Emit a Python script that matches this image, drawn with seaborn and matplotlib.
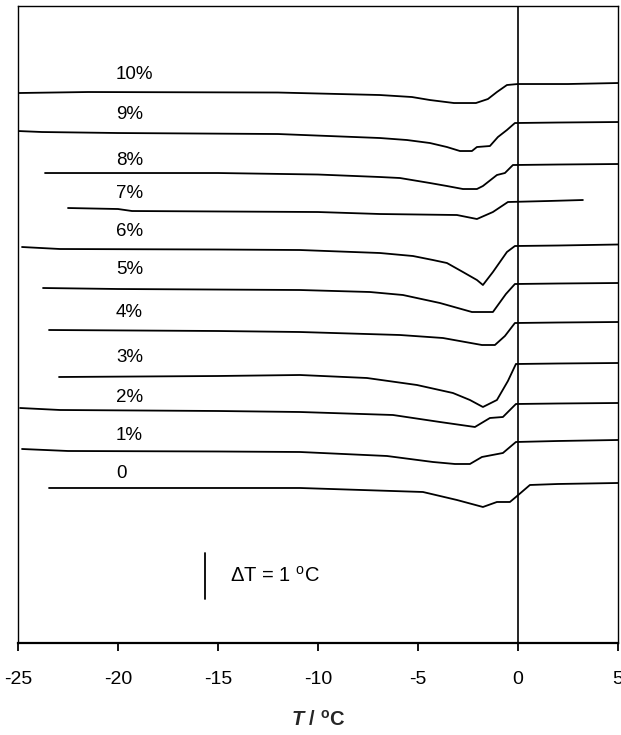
import matplotlib
matplotlib.use('Agg')
import matplotlib.pyplot as plt
import pandas as pd
import seaborn as sns

# Cooling curves, temperature T (degC) vs. signal height (arbitrary units,
# 46 units = 1 degC, see scale bar). Curves stacked by concentration.
labels = ['10%', '9%', '8%', '7%', '6%', '5%', '4%', '3%', '2%', '1%', '0']

t_10 = [-25, -21.5, -12, -6.9, -5.3, -4.4, -3.2, -2.1, -1.5, -1.05, -0.55, 0, 2.5, 5]
h_10 = [550, 551, 550.5, 548, 546, 543, 540, 540, 544, 551, 558, 559, 559, 560]

t_9 = [-25, -23.8, -20, -12, -6.9, -5.55, -4.4, -3.55, -2.9, -2.3, -2.05, -1.4, -1.0, -0.55, -0.15, 2, 5]
h_9 = [512, 511, 510, 509, 505, 503, 500, 496, 492, 492, 496, 497, 506, 513, 520, 520.5, 521]

t_8 = [-23.65, -15, -10, -6.9, -5.9, -4.4, -3.55, -2.75, -2.05, -1.75, -1.05, -0.65, -0.25, 2, 5]
h_8 = [470, 470, 468.5, 466, 465, 460, 457, 454, 454, 457, 468, 470, 478, 478.5, 479]

t_7 = [-22.5, -20.0, -19.3, -10, -6.9, -3.05, -2.05, -1.25, -0.5, 1.5, 3.25]
h_7 = [435, 434, 432, 431, 429, 428, 424, 431, 441, 442, 443]

t_6 = [-24.8, -22.9, -15, -10.9, -6.9, -5.25, -4.25, -3.55, -2.75, -2.05, -1.75, -1.25, -0.55, -0.15, 2, 5]
h_6 = [396, 394, 393.5, 393, 390, 387, 383, 380, 371, 363, 358, 371, 391, 397, 397.5, 398.5]

t_5 = [-23.75, -20, -10.9, -7.4, -5.75, -3.9, -2.3, -1.25, -0.6, -0.15, 2, 5]
h_5 = [355, 354, 353, 351, 348, 340, 331, 331, 349, 359, 359.5, 360]

t_4 = [-23.45, -15, -10.9, -5.9, -3.75, -1.8, -1.15, -0.65, -0.15, 2, 5]
h_4 = [313, 312, 311, 308, 305, 298, 298, 307, 320, 320.5, 321]

t_3 = [-22.95, -15, -10.9, -7.55, -5.05, -3.25, -2.4, -1.75, -1.05, -0.5, -0.1, 2, 5]
h_3 = [266, 267, 268, 265, 258, 250, 243, 236, 243, 262, 279, 279.5, 280]

t_2 = [-24.9, -22.9, -15, -10.9, -6.25, -3.9, -2.15, -1.4, -0.75, -0.1, 2, 5]
h_2 = [235, 233, 232, 231, 228, 221, 216, 225, 226, 239, 239.5, 240]

t_1 = [-24.8, -22.5, -15, -10.9, -6.55, -4.25, -3.15, -2.4, -1.8, -0.75, -0.1, 2, 5]
h_1 = [194, 192, 191.5, 191, 187, 181, 179, 179, 186, 190, 201, 202, 203]

t_0 = [-23.45, -15, -10.9, -4.75, -3.05, -1.75, -1.05, -0.4, -0.1, 0.6, 2, 5]
h_0 = [155, 155, 155, 151, 143, 136, 141, 141, 146, 158, 159, 160]

# label positions (left edge T, height)
label_t = -20.1
label_h = [569, 529, 483, 450, 412, 374, 331, 286, 245, 207, 169]

# scale bar: 1 degC = 46 units
bar_t = -15.65
bar_h = [44, 90]

curves_t = [t_10, t_9, t_8, t_7, t_6, t_5, t_4, t_3, t_2, t_1, t_0]
curves_h = [h_10, h_9, h_8, h_7, h_6, h_5, h_4, h_3, h_2, h_1, h_0]

rows = []
for lab, ts, hs in zip(labels, curves_t, curves_h):
    for t, h in zip(ts, hs):
        rows.append({'conc': lab, 'T': t, 'h': h})
df = pd.DataFrame(rows)

sns.set_theme(style='ticks')
plt.rcParams['font.family'] = ['Liberation Sans', 'DejaVu Sans']
plt.rcParams['mathtext.fontset'] = 'custom'
plt.rcParams['mathtext.rm'] = 'Liberation Sans'
plt.rcParams['mathtext.it'] = 'Liberation Sans:italic:bold'
plt.rcParams['mathtext.bf'] = 'Liberation Sans:bold'

fig = plt.figure(figsize=(6.21, 7.35), dpi=100)
ax = fig.add_axes([0.029, 0.1252, 0.966, 0.8666])

sns.lineplot(data=df, x='T', y='h', units='conc', estimator=None, sort=False,
             color='black', linewidth=1.3, ax=ax)

for lab, h in zip(labels, label_h):
    ax.text(label_t, h, lab, ha='left', va='center', fontsize=13.5, color='black')

ax.axvline(0, color='black', linewidth=1.2)
ax.plot([bar_t, bar_t], bar_h, color='black', linewidth=1.3)
ax.text(-14.4, sum(bar_h) / 2, r'$\Delta$T = 1 $^{\mathrm{o}}$C', ha='left', va='center',
        fontsize=14.5, color='black')

ax.set_xlim(-25, 5)
ax.set_ylim(0, 637)
ax.set_xticks([-25, -20, -15, -10, -5, 0, 5])
ax.set_xticklabels(['-25', '-20', '-15', '-10', '-5', '0', '5'])
ax.set_yticks([])
ax.tick_params(axis='x', direction='out', length=6, width=1.3, labelsize=14,
               colors='black', pad=14)
ax.set_xlabel(r'$T$ / $^{\mathbf{o}}$C', fontsize=14.5, fontweight='bold', labelpad=16)
ax.set_ylabel('')
for side in ['left', 'right', 'top']:
    ax.spines[side].set_linewidth(1.0)
    ax.spines[side].set_color('black')
ax.spines['bottom'].set_linewidth(1.6)
ax.spines['bottom'].set_color('black')

plt.savefig('out.png', dpi=100)
